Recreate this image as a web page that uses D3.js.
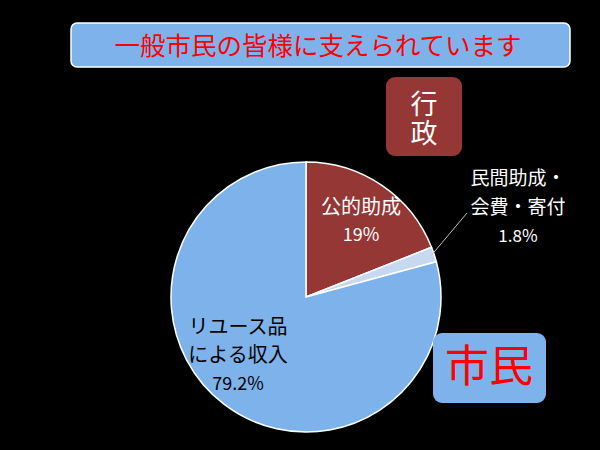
<!DOCTYPE html>
<html>
<head>
<meta charset="utf-8">
<script src="https://cdn.jsdelivr.net/npm/d3@7"></script>
<style>
  html, body { margin: 0; padding: 0; background: #000; }
  svg { display: block; }
  text { font-family: "Noto Sans CJK JP", "Noto Sans", sans-serif; }
</style>
</head>
<body>
<svg id="chart" width="600" height="450"></svg>
<script>
// Income breakdown
const categories = ["公的助成", "民間助成・会費・寄付", "リユース品による収入"];
const values = [19, 1.8, 79.2];
const valueLabels = ["19%", "1.8%", "79.2%"];
const sliceColors = ["#953735", "#C6D9F1", "#7DB3EA"];

const titleText = "一般市民の皆様に支えられています";

const svg = d3.select("#chart");
const W = 600, H = 450;
svg.append("rect").attr("width", W).attr("height", H).attr("fill", "#000");

// Title banner
svg.append("rect")
  .attr("x", 71).attr("y", 23).attr("width", 499).attr("height", 44)
  .attr("rx", 6).attr("fill", "#7DB3EA")
  .attr("stroke", "#fff").attr("stroke-width", 1.5);
svg.append("text")
  .attr("x", 318).attr("y", 46).attr("dy", "0.35em")
  .attr("text-anchor", "middle")
  .attr("font-size", 25.5).attr("fill", "#FF0000")
  .text(titleText);

// Pie
const cx = 306, cy = 297, r = 135;
const pie = d3.pie().sort(null).value(d => d)(values);
const arc = d3.arc().innerRadius(0).outerRadius(r);
const g = svg.append("g").attr("transform", `translate(${cx},${cy})`);
g.selectAll("path").data(pie).join("path")
  .attr("d", arc)
  .attr("fill", (d, i) => sliceColors[i])
  .attr("stroke", "#fff").attr("stroke-width", 1.5);

// Leader line for the small slice
const small = pie[1];
const midA = (small.startAngle + small.endAngle) / 2;
const p0 = [cx + Math.sin(midA) * (r - 3), cy - Math.cos(midA) * (r - 3)];
svg.append("line")
  .attr("x1", p0[0]).attr("y1", p0[1])
  .attr("x2", 467).attr("y2", 213)
  .attr("stroke", "#bfbfbf").attr("stroke-width", 1);

// Slice labels
function block(x, lines, fill, sizes, ys) {
  lines.forEach((t, i) => {
    svg.append("text")
      .attr("x", x).attr("y", ys[i]).attr("dy", "0.35em")
      .attr("text-anchor", "middle")
      .attr("font-size", sizes[i]).attr("fill", fill)
      .text(t);
  });
}
block(361, ["公的助成", valueLabels[0]], "#fff", [20, 18], [207, 235]);
block(518, ["民間助成・", "会費・寄付", valueLabels[1]], "#fff", [19, 19, 17], [178, 207, 236]);
block(238, ["リユース品", "による収入", valueLabels[2]], "#000", [20, 20, 18], [327, 355, 384]);

// 行政 box, label set vertically
svg.append("rect")
  .attr("x", 386).attr("y", 77).attr("width", 76).attr("height", 79)
  .attr("rx", 9).attr("fill", "#953735");
svg.append("text")
  .attr("x", 424).attr("y", 119)
  .attr("text-anchor", "middle")
  .style("writing-mode", "vertical-rl")
  .style("letter-spacing", "2px")
  .attr("font-size", 27).attr("fill", "#fff")
  .text("行政");

// 市民 box
svg.append("rect")
  .attr("x", 433).attr("y", 333).attr("width", 113).attr("height", 70)
  .attr("rx", 9).attr("fill", "#7DB3EA");
block(489, ["市民"], "#FF0000", [44], [367]);
</script>
</body>
</html>
